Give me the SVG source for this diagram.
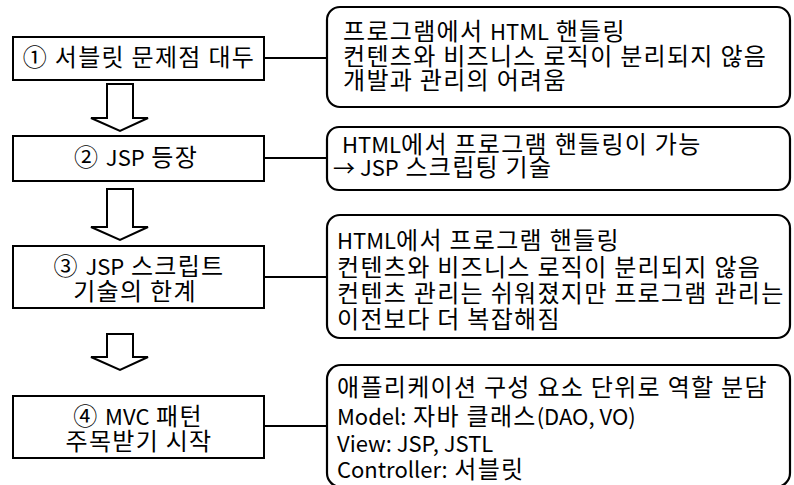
<svg xmlns="http://www.w3.org/2000/svg" width="794" height="485" viewBox="0 0 794 485">
<style>
.box{fill:#fff;stroke:#000;stroke-width:2}
.note{fill:#fff;stroke:#000;stroke-width:2.2}
.arr{fill:#fff;stroke:#000;stroke-width:2;stroke-linejoin:miter}
.ln{stroke:#000;stroke-width:2;fill:none}
text{font-family:"Noto Sans CJK KR","Noto Sans",sans-serif;font-size:24px;letter-spacing:1.3px;fill:#000}
.l{font-size:22px;letter-spacing:0}
.c{text-anchor:middle}
</style>
<rect width="794" height="485" fill="#fff"/>
<g id="connectors">
<line class="ln" x1="264" y1="58" x2="327" y2="58"/>
<line class="ln" x1="264" y1="158" x2="327" y2="158"/>
<line class="ln" x1="264" y1="277" x2="327" y2="277"/>
<line class="ln" x1="264" y1="426" x2="327" y2="426"/>
<polygon class="arr" points="107,84 133,84 133,118 148,118 120,131 91,118 107,118"/>
<polygon class="arr" points="107,189 133,189 133,227 148,227 120,240 91,227 107,227"/>
<polygon class="arr" points="107,334 133,334 133,357 148,357 120,370 91,357 107,357"/>
</g>
<g id="step1">
<rect class="box" x="13" y="37" width="251" height="43"/>
<text class="c" x="139" y="66">① 서블릿 문제점 대두</text>
</g>
<g id="step2">
<rect class="box" x="13" y="136" width="251" height="45"/>
<text class="c" x="136" y="166">② <tspan class="l">JSP</tspan> 등장</text>
</g>
<g id="step3">
<rect class="box" x="13" y="246" width="251" height="62"/>
<text class="c" x="139" y="275">③ <tspan class="l">JSP</tspan> 스크립트</text>
<text class="c" x="135" y="300">기술의 한계</text>
</g>
<g id="step4">
<rect class="box" x="13" y="396" width="251" height="62"/>
<text class="c" x="138" y="425">④ <tspan class="l">MVC</tspan> 패턴</text>
<text class="c" x="139" y="450">주목받기 시작</text>
</g>
<g id="note1">
<rect class="note" x="327" y="7" width="463" height="100" rx="13"/>
<text x="343" y="40">프로그램에서 <tspan class="l">HTML</tspan> 핸들링</text>
<text x="343" y="65">컨텐츠와 비즈니스 로직이 분리되지 않음</text>
<text x="343" y="89">개발과 관리의 어려움</text>
</g>
<g id="note2">
<rect class="note" x="327" y="127" width="463" height="63" rx="12"/>
<text x="342" y="153"><tspan class="l">HTML</tspan>에서 프로그램 핸들링이 가능</text>
<text x="333" y="176"><tspan class="l">→ JSP</tspan> 스크립팅 기술</text>
</g>
<g id="note3">
<rect class="note" x="327" y="215" width="463" height="123" rx="13"/>
<text x="337" y="249"><tspan class="l">HTML</tspan>에서 프로그램 핸들링</text>
<text x="337" y="276">컨텐츠와 비즈니스 로직이 분리되지 않음</text>
<text x="337" y="302">컨텐츠 관리는 쉬워졌지만 프로그램 관리는</text>
<text x="337" y="328">이전보다 더 복잡해짐</text>
</g>
<g id="note4">
<rect class="note" x="327" y="365" width="463" height="122" rx="14"/>
<text x="337" y="396">애플리케이션 구성 요소 단위로 역할 분담</text>
<text x="337" y="425"><tspan class="l">Model:</tspan> 자바 클래스<tspan class="l">(DAO, VO)</tspan></text>
<text x="337" y="452"><tspan class="l">View: JSP, JSTL</tspan></text>
<text x="337" y="478"><tspan class="l">Controller:</tspan> 서블릿</text>
</g>
</svg>
